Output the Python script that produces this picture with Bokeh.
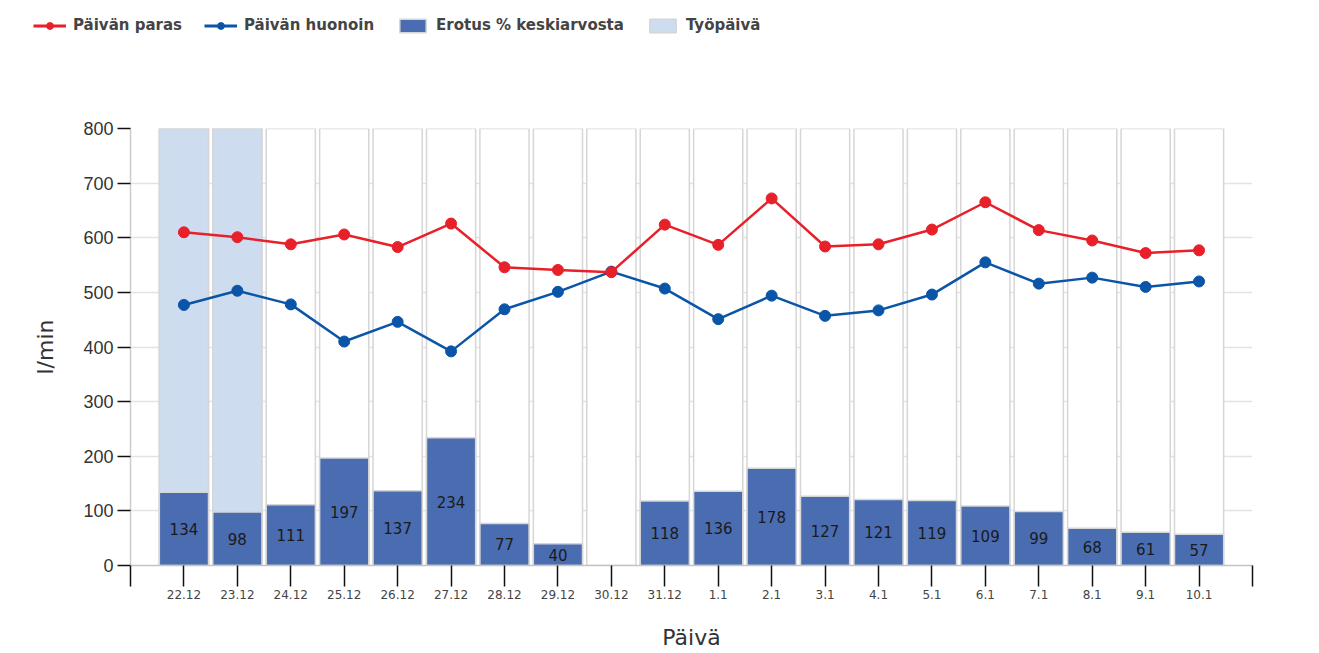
from bokeh.plotting import figure
from bokeh.layouts import column
from bokeh.models import ColumnDataSource, FixedTicker, Legend, LegendItem, Range1d
from bokeh.core.properties import value
from bokeh.embed import file_html
from bokeh.resources import INLINE

# ---- data ----
days = ["22.12", "23.12", "24.12", "25.12", "26.12", "27.12", "28.12", "29.12",
        "30.12", "31.12", "1.1", "2.1", "3.1", "4.1", "5.1", "6.1", "7.1", "8.1",
        "9.1", "10.1"]
best = [610, 601, 588, 606, 583, 626, 546, 541, 537, 624, 587, 672,
        584, 588, 615, 665, 614, 595, 572, 577]
worst = [477, 503, 478, 410, 446, 392, 469, 501, 538, 507, 451, 494,
         457, 467, 496, 555, 516, 527, 510, 520]
diff = [134, 98, 111, 197, 137, 234, 77, 40, None, 118, 136, 178,
        127, 121, 119, 109, 99, 68, 61, 57]
workdays = ["22.12", "23.12"]
y_ticks = [0, 100, 200, 300, 400, 500, 600, 700, 800]
y_max = 800

# ---- derived ----
xs = list(range(len(days)))
idx = {d: i for i, d in enumerate(days)}
work_x = [idx[d] for d in workdays]
bar_x = [i for i, v in zip(xs, diff) if v is not None]
bar_v = [v for v in diff if v is not None]

src_bg = ColumnDataSource(dict(x=xs, top=[y_max] * len(xs)))
src_work = ColumnDataSource(dict(x=work_x, top=[y_max] * len(work_x)))
src_bar = ColumnDataSource(dict(x=bar_x, top=bar_v, mid=[v / 2 for v in bar_v],
                                lab=[str(v) for v in bar_v]))
src_line = ColumnDataSource(dict(x=xs, best=best, worst=worst))

RED, BLUE, BAR, WORK, EDGE = "#e8202a", "#0a55a8", "#4a6cb0", "#cddcee", "#d6d6d6"

W = 1310
H_LEG = 60
H_MAIN = 592
FRAME_TOP, FRAME_BOTTOM, FRAME_LEFT, FRAME_RIGHT = 128, 566, 130, 1252

p = figure(width=W, height=H_MAIN, output_backend="svg", toolbar_location=None,
           x_range=Range1d(-1, len(days)), y_range=Range1d(0, y_max),
           min_border_left=FRAME_LEFT, min_border_right=W - FRAME_RIGHT,
           min_border_top=FRAME_TOP - H_LEG,
           min_border_bottom=H_MAIN - (FRAME_BOTTOM - H_LEG))
p.frame_align = False
p.outline_line_color = None
p.background_fill_color = "white"

# grid
p.xgrid.visible = False
p.ygrid.ticker = FixedTicker(ticks=y_ticks)
p.ygrid.grid_line_color = "#e3e3e3"
p.ygrid.grid_line_width = 1.5

# white category boxes
p.vbar(x="x", top="top", width=0.92, source=src_bg, fill_color="white",
       line_color=EDGE, line_width=1.5)
# workday boxes
p.vbar(x="x", top="top", width=0.92, source=src_work, fill_color=WORK,
       line_color=EDGE, line_width=1.5)
# difference bars
p.vbar(x="x", top="top", width=0.92, source=src_bar, fill_color=BAR,
       line_color=EDGE, line_width=1.5)
p.text(x="x", y="mid", text="lab", source=src_bar, text_align="center",
       text_baseline="middle", text_font=value("DejaVu Sans"),
       text_font_size="15px", text_color="#1a1a1a")

# lines
p.line(x="x", y="worst", source=src_line, line_color=BLUE, line_width=2.5)
p.scatter(x="x", y="worst", source=src_line, size=11, fill_color=BLUE, line_color=BLUE)
p.line(x="x", y="best", source=src_line, line_color=RED, line_width=2.5)
p.scatter(x="x", y="best", source=src_line, size=11, fill_color=RED, line_color=RED)

# axes
ya = p.yaxis[0]
ya.ticker = FixedTicker(ticks=y_ticks)
ya.axis_line_color = "#cccccc"
ya.axis_line_width = 1.5
ya.major_tick_out = 13
ya.major_tick_in = 0
ya.major_tick_line_color = "#111111"
ya.major_tick_line_width = 1.5
ya.minor_tick_line_color = None
ya.major_label_standoff = 4
ya.major_label_text_font = "Liberation Sans"
ya.major_label_text_font_size = "18px"
ya.major_label_text_color = "#333333"
ya.axis_label = "l/min"
ya.axis_label_text_font = "DejaVu Sans"
ya.axis_label_text_font_size = "22px"
ya.axis_label_text_font_style = "normal"
ya.axis_label_text_color = "#333333"
ya.axis_label_standoff = 22

xa = p.xaxis[0]
xa.ticker = FixedTicker(ticks=[-1] + xs + [len(days)])
overrides = {i: d for i, d in enumerate(days)}
overrides[-1] = ""
overrides[len(days)] = ""
xa.major_label_overrides = overrides
xa.axis_line_color = "#c4c4c4"
xa.axis_line_width = 1.5
xa.major_tick_out = 21
xa.major_tick_in = 0
xa.major_tick_line_color = "#111111"
xa.major_tick_line_width = 1.5
xa.minor_tick_line_color = None
xa.major_label_standoff = 3
xa.major_label_text_font = "DejaVu Sans"
xa.major_label_text_font_size = "12px"
xa.major_label_text_color = "#444444"
xa.axis_label = "Päivä"
xa.axis_label_text_font = "DejaVu Sans"
xa.axis_label_text_font_size = "22px"
xa.axis_label_text_font_style = "normal"
xa.axis_label_text_color = "#333333"
xa.axis_label_standoff = 23

# ---- legend strip (separate figure; its renderers are hidden, only styles show) ----
lg = figure(width=W, height=H_LEG, output_backend="svg", toolbar_location=None,
            x_range=Range1d(0, 1), y_range=Range1d(0, 1),
            x_axis_type=None, y_axis_type=None, min_border=0)
lg.frame_align = False
lg.outline_line_color = None
lg.grid.visible = False
lb_l = lg.line(x="x", y="best", source=src_line, line_color=RED, line_width=3)
lb_s = lg.scatter(x="x", y="best", source=src_line, size=8, fill_color=RED, line_color=RED)
lw_l = lg.line(x="x", y="worst", source=src_line, line_color=BLUE, line_width=3)
lw_s = lg.scatter(x="x", y="worst", source=src_line, size=8, fill_color=BLUE, line_color=BLUE)
lbar = lg.vbar(x="x", top="top", width=0.92, source=src_bar, fill_color=BAR,
               line_color=EDGE, line_width=1.5)
lwork = lg.vbar(x="x", top="top", width=0.92, source=src_work, fill_color=WORK,
                line_color=EDGE, line_width=1.5)
for r in (lb_l, lb_s, lw_l, lw_s, lbar, lwork):
    r.visible = False

legend = Legend(items=[
    LegendItem(label="Päivän paras", renderers=[lb_l, lb_s]),
    LegendItem(label="Päivän huonoin", renderers=[lw_l, lw_s]),
    LegendItem(label="Erotus % keskiarvosta", renderers=[lbar]),
    LegendItem(label="Työpäivä", renderers=[lwork]),
], orientation="horizontal", location=(33, 25))
legend.glyph_width = 33
legend.glyph_height = 17
legend.label_standoff = 7
legend.spacing = 22
legend.padding = 0
legend.margin = 0
legend.label_height = 20
legend.label_text_font = "DejaVu Sans"
legend.label_text_font_style = "bold"
legend.label_text_font_size = "15px"
legend.label_text_color = "#444444"
legend.background_fill_alpha = 0
legend.border_line_alpha = 0
lg.add_layout(legend, "center")

layout = column(lg, p, spacing=0)
open("out.html", "w").write(file_html(layout, INLINE))
